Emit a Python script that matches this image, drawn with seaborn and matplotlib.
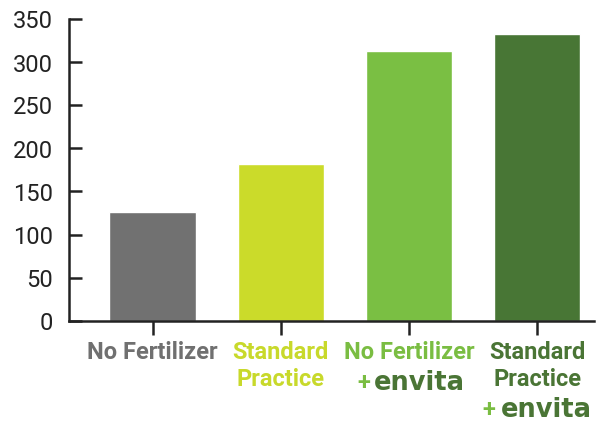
import matplotlib
matplotlib.use("Agg")
import matplotlib.pyplot as plt
import seaborn as sns
import pandas as pd

categories = ["No Fertilizer", "Standard\nPractice", "No Fertilizer", "Standard\nPractice"]
keys = ["nf", "sp", "nf_env", "sp_env"]
values = [126, 182, 313, 333]
bar_colors = ["#717171", "#CBDB2A", "#7ABF43", "#487635"]
label_colors = ["#707070", "#C8D92B", "#7ABD42", "#4A7535"]
yticks = [0, 50, 100, 150, 200, 250, 300, 350]
brand = "envita"

sns.set_theme(style="white")
plt.rcParams["font.family"] = ["Roboto", "DejaVu Sans"]

df = pd.DataFrame({"key": keys, "value": values})

fig = plt.figure(figsize=(5.97, 4.23), dpi=100)
ax = fig.add_axes([69/597, 1-320.5/423, (594-69)/597, (320.5-19.5)/423])
sns.barplot(data=df, x="key", y="value", hue="key", palette=bar_colors,
            width=0.676, legend=False, ax=ax, saturation=1)

ax.set_ylim(0, 350)
ax.set_xlim(-0.654, 3.445)
ax.set_yticks(yticks)
ax.set_yticklabels([str(t) for t in yticks], fontsize=17, color="#222222")
ax.set_xticks(range(len(keys)))
ax.set_xticklabels(categories, fontsize=17, fontweight="bold", linespacing=1.2)
for lbl, c in zip(ax.get_xticklabels(), label_colors):
    lbl.set_color(c)
ax.set_xlabel("")
ax.set_ylabel("")
for s in ["top", "right"]:
    ax.spines[s].set_visible(False)
for s in ["left", "bottom"]:
    ax.spines[s].set_color("#222222")
    ax.spines[s].set_linewidth(1.8)
ax.tick_params(axis="y", direction="in", length=9, width=1.8, color="#222222", pad=11.5, left=True)
ax.tick_params(axis="x", direction="out", length=10, width=1.8, color="#222222", pad=5, bottom=True)

# "+ envita" brand marks under the last two labels
for (px, ex, base) in [(364, 419, 390), (489, 546, 417)]:
    fig.text(px/597, 1-base/423, "+", fontsize=17, fontweight="bold", color="#7ABD42",
             ha="center", va="baseline")
    fig.text(ex/597, 1-base/423, brand, fontsize=18.5, fontweight="bold", color="#4A7535",
             ha="center", va="baseline", family="DejaVu Sans")

fig.savefig("out.png", dpi=100)
